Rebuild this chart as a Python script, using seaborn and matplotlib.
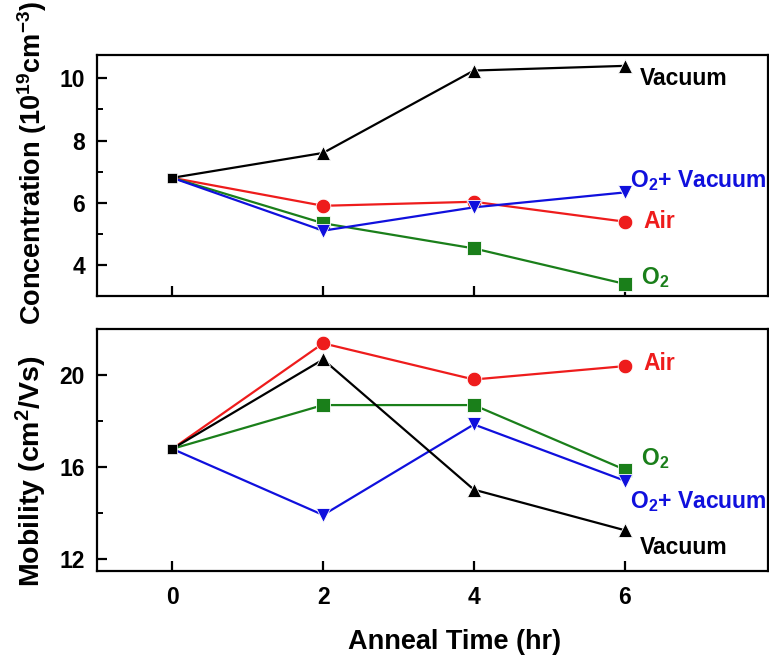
import numpy as np
import pandas as pd
import matplotlib
matplotlib.use("Agg")
import matplotlib.pyplot as plt
import seaborn as sns

sns.set_style("ticks", {"axes.edgecolor": "black", "text.color": "black",
                        "xtick.color": "black", "ytick.color": "black",
                        "axes.labelcolor": "black"})
plt.rcParams['font.family'] = ['Liberation Sans', 'DejaVu Sans']
plt.rcParams['font.weight'] = 'bold'
plt.rcParams['mathtext.fontset'] = 'custom'
plt.rcParams['mathtext.rm'] = 'Liberation Sans:bold'
plt.rcParams['mathtext.bf'] = 'Liberation Sans:bold'
plt.rcParams['mathtext.it'] = 'Liberation Sans:bold'
plt.rcParams['mathtext.default'] = 'regular'

times = [0, 2, 4, 6]
series = ["Vacuum", "Air", "O2", "O2 + Vacuum"]
conc = {
    "Vacuum": [6.8, 7.6, 10.25, 10.4],
    "Air": [6.8, 5.9, 6.03, 5.39],
    "O2": [6.8, 5.34, 4.53, 3.39],
    "O2 + Vacuum": [6.8, 5.1, 5.85, 6.33],
}
mob = {
    "Vacuum": [16.8, 20.68, 15.03, 13.27],
    "Air": [16.8, 21.38, 19.81, 20.39],
    "O2": [16.8, 18.7, 18.7, 15.9],
    "O2 + Vacuum": [16.8, 13.93, 17.86, 15.42],
}
colors = {"Vacuum": "#000000", "Air": "#ee1c1c", "O2": "#1a7f1a", "O2 + Vacuum": "#1010dd"}
markers = {"Vacuum": "^", "Air": "o", "O2": "s", "O2 + Vacuum": "v"}
labels = {"Vacuum": "Vacuum", "Air": "Air", "O2": "O$_2$", "O2 + Vacuum": "O$_2$+ Vacuum"}
conc_label_y = {"Vacuum": 10.0, "Air": 5.38, "O2": 3.58, "O2 + Vacuum": 6.72}
mob_label_y = {"Vacuum": 12.5, "Air": 20.5, "O2": 16.4, "O2 + Vacuum": 14.5}
label_x = {"Vacuum": 6.2, "Air": 6.25, "O2": 6.22, "O2 + Vacuum": 6.07}

fig = plt.figure(figsize=(7.69, 6.57), dpi=100)
ax1 = fig.add_axes([0.126, 0.5495, 0.8726, 0.3668])
ax2 = fig.add_axes([0.126, 0.1309, 0.8726, 0.3683])

def draw(ax, data, label_y):
    for s in ["Air", "O2", "O2 + Vacuum", "Vacuum"]:
        df = pd.DataFrame({"t": times, "v": data[s]})
        sns.lineplot(data=df, x="t", y="v", ax=ax, color=colors[s], lw=1.6,
                     marker=markers[s], markersize=10.5, markevery=[1, 2, 3],
                     markeredgecolor="white", markeredgewidth=0.6, zorder=3)
        ax.text(label_x[s], label_y[s], labels[s], color=colors[s], fontsize=16.5,
                fontweight='bold', va='center', ha='left')
    start = pd.DataFrame({"t": [times[0]], "v": [data["Vacuum"][0]]})
    sns.scatterplot(data=start, x="t", y="v", ax=ax, color="black", marker="s",
                    s=55, edgecolor="white", linewidth=0.5, zorder=5)
    ax.set_xlim(-1, 7.9)
    ax.set_xticks(times)
    for sp in ax.spines.values():
        sp.set_linewidth(1.6)
        sp.set_visible(True)
        sp.set_color("black")
    ax.tick_params(direction='in', length=7, width=1.6, labelsize=16.5, top=False, right=False)
    ax.tick_params(which='minor', direction='in', length=4, width=1.4, top=False, right=False)
    ax.tick_params(axis='y', pad=8.5)
    ax.set_xlabel("")

draw(ax1, conc, conc_label_y)
ax1.set_ylim(3.0, 10.75)
ax1.set_yticks([4, 6, 8, 10])
ax1.set_yticks([5, 7, 9], minor=True)
ax1.set_xticklabels([])
ax1.set_ylabel("Concentration (10$^{19}$cm$^{-3}$)", fontsize=19.5, fontweight='bold')
ax1.yaxis.set_label_coords(-0.072, 0.552)

draw(ax2, mob, mob_label_y)
ax2.set_ylim(11.5, 22.0)
ax2.set_yticks([12, 16, 20])
ax2.set_yticks([14, 18], minor=True)
ax2.set_ylabel("Mobility (cm$^2$/Vs)", fontsize=20.5, fontweight='bold')
ax2.yaxis.set_label_coords(-0.072, 0.41)
ax2.set_xlabel("Anneal Time (hr)", fontsize=19.5, fontweight='bold', labelpad=12)
ax2.xaxis.set_label_coords(0.5335, -0.24)
ax2.tick_params(axis='x', pad=11)

for ax in (ax1, ax2):
    for lab in ax.get_xticklabels() + ax.get_yticklabels():
        lab.set_fontweight('bold')

fig.savefig("out.png", dpi=100)
